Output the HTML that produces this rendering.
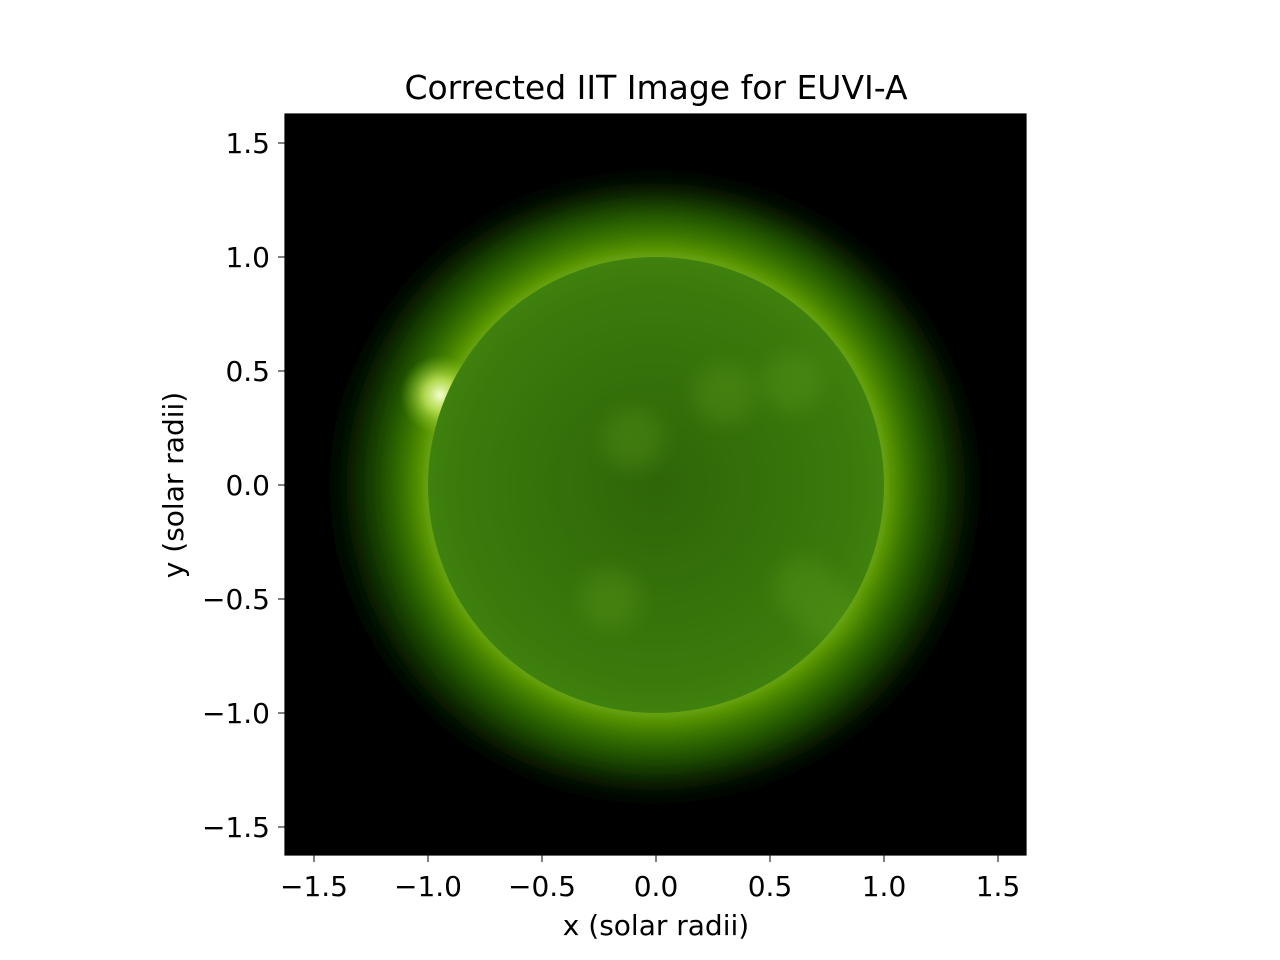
<!DOCTYPE html>
<html><head><meta charset="utf-8"><style>
html,body{margin:0;padding:0;background:#fff;}
svg{display:block;font-family:"DejaVu Sans","Liberation Sans",sans-serif;}
</style></head><body>
<svg id="chart" width="1280" height="960">
<defs>
<radialGradient id="corona" cx="656" cy="485" r="330" gradientUnits="userSpaceOnUse">
<stop offset="0.66" stop-color="#86c018"/>
<stop offset="0.70" stop-color="#559600"/>
<stop offset="0.78" stop-color="#2c6a00"/>
<stop offset="0.87" stop-color="#113500"/>
<stop offset="0.95" stop-color="#030a00"/>
<stop offset="1" stop-color="#000"/>
</radialGradient>
<radialGradient id="disk" cx="656" cy="485" r="228" gradientUnits="userSpaceOnUse">
<stop offset="0" stop-color="#2e6608"/>
<stop offset="0.85" stop-color="#3a7a0c"/>
<stop offset="1" stop-color="#3f800e"/>
</radialGradient>
<radialGradient id="bright" cx="440" cy="395" r="40" gradientUnits="userSpaceOnUse">
<stop offset="0" stop-color="#f4ffd0"/>
<stop offset="0.4" stop-color="#c8ea60" stop-opacity="0.8"/>
<stop offset="1" stop-color="#7fbf10" stop-opacity="0"/>
</radialGradient>
<filter id="blur"><feGaussianBlur stdDeviation="14"/></filter>
<filter id="blur2"><feGaussianBlur stdDeviation="10"/></filter>
<clipPath id="plotclip"><rect x="285" y="114" width="741" height="741"/></clipPath>
</defs>
<text x="656" y="99" text-anchor="middle" font-size="33">Corrected IIT Image for EUVI-A</text>
<g clip-path="url(#plotclip)">
<rect x="285" y="114" width="741" height="741" fill="#000"/>
<ellipse cx="652" cy="488" rx="318" ry="298" fill="url(#corona)" filter="url(#blur)"/>
<circle cx="440" cy="395" r="40" fill="url(#bright)"/>
<circle id="sun" cx="656" cy="485" r="228" fill="url(#disk)"/>
<g id="spots" opacity="0.25" filter="url(#blur2)"></g>
</g>
<rect x="285" y="114" width="741" height="741" fill="none" stroke="#000" stroke-width="1.2"/>
<g id="xaxis"></g>
<g id="yaxis"></g>
<text x="656" y="935" text-anchor="middle" font-size="28">x (solar radii)</text>
<text transform="translate(183,485) rotate(-90)" text-anchor="middle" font-size="28">y (solar radii)</text>
</svg>
<script>
const xTicks=[-1.5,-1.0,-0.5,0.0,0.5,1.0,1.5];
const yTicks=[-1.5,-1.0,-0.5,0.0,0.5,1.0,1.5];
const tickLabels=["\u22121.5","\u22121.0","\u22120.5","0.0","0.5","1.0","1.5"];
const sunRadius=[1.0];
const brightSpots=[[0.3,0.4],[-0.1,0.2],[0.6,0.45],[0.65,-0.45],[-0.2,-0.5],[0.75,-0.55]];
const NS="http://www.w3.org/2000/svg";
const xs=v=>656+v*228, ys=v=>485-v*228;
document.getElementById('sun').setAttribute('r',sunRadius[0]*228);
const sp=document.getElementById('spots');
brightSpots.forEach(p=>{const c=document.createElementNS(NS,'circle');


c.setAttribute('cx',xs(p[0]));c.setAttribute('cy',ys(p[1]));c.setAttribute('r',30);c.setAttribute('fill','#6aa820');sp.appendChild(c);});
const xa=document.getElementById('xaxis'),ya=document.getElementById('yaxis');
xTicks.forEach((v,i)=>{const x=xs(v);
const l=document.createElementNS(NS,'line');


l.setAttribute('x1',x);l.setAttribute('x2',x);l.setAttribute('y1',855);l.setAttribute('y2',862);l.setAttribute('stroke','#000');xa.appendChild(l);
const t=document.createElementNS(NS,'text');


t.setAttribute('x',x);t.setAttribute('y',896);t.setAttribute('text-anchor','middle');t.setAttribute('font-size','28');t.textContent=tickLabels[i];xa.appendChild(t);});
yTicks.forEach((v,i)=>{const y=ys(v);
const l=document.createElementNS(NS,'line');


l.setAttribute('x1',278);l.setAttribute('x2',285);l.setAttribute('y1',y);l.setAttribute('y2',y);l.setAttribute('stroke','#000');ya.appendChild(l);
const t=document.createElementNS(NS,'text');


t.setAttribute('x',270);t.setAttribute('y',y+10);t.setAttribute('text-anchor','end');t.setAttribute('font-size','28');t.textContent=tickLabels[i];ya.appendChild(t);});
</script>
</body></html>
